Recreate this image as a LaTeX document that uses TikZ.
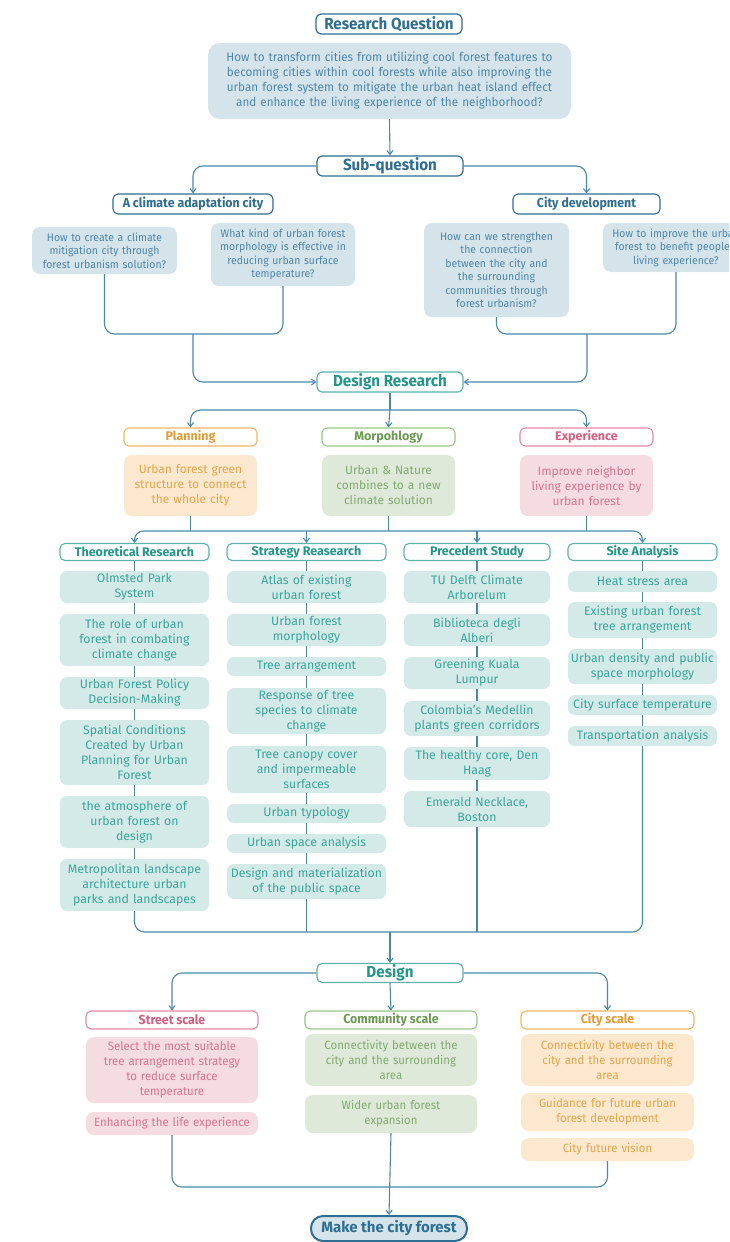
\documentclass[tikz,border=0pt]{standalone}
\usepackage{fontspec}
\setmainfont{Fira Sans}
\newfontfamily\cf[FakeStretch=0.95]{Fira Sans}
\usetikzlibrary{arrows.meta}
\definecolor{dblue}{HTML}{2F6E93}
\definecolor{lc}{HTML}{4A88AB}
\definecolor{qfill}{HTML}{D4E4EA}
\definecolor{qtext}{HTML}{4F86A8}
\definecolor{tborder}{HTML}{5BB3AA}
\definecolor{ttext}{HTML}{23968A}
\definecolor{tfill}{HTML}{D3EAE8}
\definecolor{titem}{HTML}{3BA59B}
\definecolor{oborder}{HTML}{F3B762}
\definecolor{otext}{HTML}{E79A35}
\definecolor{ofill}{HTML}{FBE8CF}
\definecolor{obody}{HTML}{E8A548}
\definecolor{gborder}{HTML}{9BC58A}
\definecolor{gtext}{HTML}{6B9A52}
\definecolor{gfill}{HTML}{DFE9DA}
\definecolor{gbody}{HTML}{82AA70}
\definecolor{pborder}{HTML}{E58AA4}
\definecolor{ptext}{HTML}{D65D7E}
\definecolor{pfill}{HTML}{F5DBE2}
\definecolor{pbody}{HTML}{DA7390}
\newcommand\szHead{\fontsize{16}{19}\selectfont}
\newcommand\szSub{\fontsize{13}{15}\selectfont}
\newcommand\szRQ{\fontsize{12.3}{15}\selectfont}
\newcommand\szBody{\fontsize{12}{15}\selectfont}
\newcommand\szQ{\fontsize{11}{13.5}\selectfont}
\newcommand\szCol{\fontsize{12.3}{15}\selectfont}
\newcommand\szColH{\fontsize{12.5}{15}\selectfont}
\begin{document}
\begin{tikzpicture}[x=1pt,y=-1pt,
  every node/.style={inner sep=0pt, align=center},
  ln/.style={draw=lc, line width=1.1pt},
  arr/.style={-{Straight Barb[length=4pt,width=6pt]}},
  hdr/.style={draw=dblue, line width=1.2pt, fill=white, rounded corners=5pt, text=dblue, font=\cf\bfseries\szHead},
  shdr/.style={draw=dblue, line width=1.1pt, fill=white, rounded corners=5pt, text=dblue, font=\cf\bfseries\szSub},
  qbox/.style={fill=qfill, rounded corners=8pt, text=qtext, font=\cf\szQ},
  thdr/.style={draw=tborder, line width=1.2pt, fill=white, rounded corners=5pt, text=ttext, font=\cf\bfseries\szHead},
  chdr/.style={draw=tborder, line width=1.1pt, fill=white, rounded corners=5pt, text=ttext, font=\bfseries\szColH},
  citem/.style={fill=tfill, rounded corners=7pt, text=titem, font=\szCol},
  ohdr/.style={draw=oborder, line width=1.1pt, fill=white, rounded corners=5pt, text=otext, font=\bfseries\szColH},
  ghdr/.style={draw=gborder, line width=1.1pt, fill=white, rounded corners=5pt, text=gtext, font=\bfseries\szColH},
  phdr/.style={draw=pborder, line width=1.1pt, fill=white, rounded corners=5pt, text=ptext, font=\bfseries\szColH},
  obox/.style={fill=ofill, rounded corners=8pt, text=obody, font=\szBody},
  gbox/.style={fill=gfill, rounded corners=8pt, text=gbody, font=\szBody},
  pbox/.style={fill=pfill, rounded corners=8pt, text=pbody, font=\szBody},
  osc/.style={draw=oborder, line width=1.1pt, fill=white, rounded corners=5pt, text=otext, font=\cf\bfseries\szSub},
  gsc/.style={draw=gborder, line width=1.1pt, fill=white, rounded corners=5pt, text=gtext, font=\cf\bfseries\szSub},
  psc/.style={draw=pborder, line width=1.1pt, fill=white, rounded corners=5pt, text=ptext, font=\cf\bfseries\szSub},
  obd/.style={fill=ofill, rounded corners=8pt, text=obody, font=\cf\szBody},
  gbd/.style={fill=gfill, rounded corners=8pt, text=gbody, font=\cf\szBody},
  pbd/.style={fill=pfill, rounded corners=8pt, text=pbody, font=\cf\szBody}
]
\useasboundingbox (0,0) rectangle (729,1242);
\clip (0,0) rectangle (729,1242);
\fill[white] (0,0) rectangle (729,1242);

% ---------- top ----------
\node[hdr, minimum width=146, minimum height=20] (rq) at (389,24) {Research Question};
\node[fill=qfill, rounded corners=12pt, text=qtext, font=\cf\szRQ, minimum width=363, minimum height=76, text width=355] (rqb) at (389.5,81)
  {How to transform cities from utilizing cool forest features to\\becoming cities within cool forests while also improving the\\urban forest system to mitigate the urban heat island effect\\and enhance the living experience of the neighborhood?};
\node[hdr, minimum width=146, minimum height=20] (sq) at (390,166) {Sub-question};
\node[shdr, minimum width=160, minimum height=20] (ac) at (193,204) {A climate adaptation city};
\node[shdr, minimum width=147, minimum height=20] (cd) at (586.5,204) {City development};

\node[qbox, minimum width=145, minimum height=47, text width=141] (q1) at (104.5,250.5)
  {How to create a climate\\mitigation city through\\forest urbanism solution?};
\node[qbox, minimum width=144, minimum height=63, text width=140] (q2) at (283,254.5)
  {What kind of urban forest\\morphology is effective in\\reducing urban surface\\temperature?};
\node[qbox, minimum width=145, minimum height=94, text width=141] (q3) at (496.5,270)
  {How can we strengthen\\the connection\\between the city and\\the surrounding\\communities through\\forest urbanism?};
\node[qbox, minimum width=146, minimum height=49, text width=142] (q4) at (676,247.5)
  {How to improve the urban\\forest to benefit people's\\living experience?};

\coordinate (jA) at (193,334);
\coordinate (jA2) at (587,334);
\node[thdr, minimum width=146, minimum height=20] (dr) at (390,382) {Design Research};
\coordinate (jB) at (390,410);

\draw[ln,arr] (rqb.south) -- (sq.north);
\draw[ln,arr,rounded corners=10pt] (sq.west) -| (ac.north);
\draw[ln,arr,rounded corners=10pt] (sq.east) -| (cd.north);
\draw[ln,rounded corners=10pt] (q1.south) |- (jA) -| (q2.south);
\draw[ln,rounded corners=10pt] (q3.south) |- (jA2) -| (q4.south);
\draw[ln,arr,rounded corners=10pt] (jA) |- (dr.west);
\draw[ln,arr,rounded corners=10pt] (jA2) |- (dr.east);

% ---------- planning / morphology / experience ----------
\node[ohdr, minimum width=133, minimum height=18] (pl) at (190.5,437) {Planning};
\node[ghdr, minimum width=133, minimum height=18] (mo) at (388.5,437) {Morpohlogy};
\node[phdr, minimum width=133, minimum height=18] (ex) at (586.5,437) {Experience};
\node[obox, minimum width=133, minimum height=61, text width=129] (plb) at (190.5,485.5)
  {Urban forest green\\structure to connect\\the whole city};
\node[gbox, minimum width=133, minimum height=61, text width=129] (mob) at (388.5,485.5)
  {Urban \& Nature\\combines to a new\\climate solution};
\node[pbox, minimum width=133, minimum height=61, text width=129] (exb) at (586.5,485.5)
  {Improve neighbor\\living experience by\\urban forest};

\draw[ln] (dr.south) -- (jB);
\draw[ln,arr,rounded corners=10pt] (jB) -| (pl.north);
\draw[ln,arr,rounded corners=10pt] (jB) -| (ex.north);
\draw[ln,arr] (jB) -- (mo.north);

\coordinate (jC) at (389,531);

% ---------- column headers ----------
\node[chdr, minimum width=149, minimum height=17] (th) at (134.5,552) {Theoretical Research};
\node[chdr, minimum width=159, minimum height=17] (st) at (306.5,552) {Strategy Reasearch};
\node[chdr, minimum width=146, minimum height=17] (pr) at (477,552) {Precedent Study};
\node[chdr, minimum width=149, minimum height=17] (sa) at (642.5,552) {Site Analysis};

\draw[ln] (plb.south) -- (plb.south |- jC);
\draw[ln] (mob.south) -- (mob.south |- jC);
\draw[ln] (exb.south) -- (exb.south |- jC);
\draw[ln,arr,rounded corners=9pt] (jC) -| (th.north);
\draw[ln,arr,rounded corners=9pt] (jC) -| (sa.north);
\draw[ln,arr] (st.north |- jC) -- (st.north);
\draw[ln,arr] (pr.north |- jC) -- (pr.north);

% ---------- theoretical ----------
\node[citem, minimum width=149, minimum height=32, text width=145] (t1) at (134.5,587) {Olmsted Park\\System};
\node[citem, minimum width=149, minimum height=52, text width=145] (t2) at (134.5,640) {The role of urban\\forest in combating\\climate change};
\node[citem, minimum width=149, minimum height=32, text width=145] (t3) at (134.5,693) {Urban Forest Policy\\Decision-Making};
\node[citem, minimum width=149, minimum height=65, text width=145] (t4) at (134.5,752.5) {Spatial Conditions\\Created by Urban\\Planning for Urban\\Forest};
\node[citem, minimum width=149, minimum height=52, text width=145] (t5) at (134.5,822) {the atmosphere of\\urban forest on\\design};
\node[citem, minimum width=149, minimum height=52, text width=145] (t6) at (134.5,885) {Metropolitan landscape\\architecture urban\\parks and landscapes};

% ---------- strategy ----------
\node[citem, minimum width=159, minimum height=32, text width=155] (s1) at (306.5,587) {Atlas of existing\\urban forest};
\node[citem, minimum width=159, minimum height=32, text width=155] (s2) at (306.5,630) {Urban forest\\morphology};
\node[citem, minimum width=159, minimum height=19, text width=155] (s3) at (306.5,666.5) {Tree arrangement};
\node[citem, minimum width=159, minimum height=46, text width=155] (s4) at (306.5,711) {Response of tree\\species to climate\\change};
\node[citem, minimum width=159, minimum height=47, text width=155] (s5) at (306.5,769.5) {Tree canopy cover\\and impermeable\\surfaces};
\node[citem, minimum width=159, minimum height=19, text width=155] (s6) at (306.5,813.5) {Urban typology};
\node[citem, minimum width=159, minimum height=19, text width=155] (s7) at (306.5,843.5) {Urban space analysis};
\node[citem, minimum width=159, minimum height=35, text width=155] (s8) at (306.5,881.5) {Design and materialization\\of the public space};

% ---------- precedent ----------
\node[citem, minimum width=146, minimum height=32, text width=142] (p1) at (477,587) {TU Delft Climate\\Arborelum};
\node[citem, minimum width=146, minimum height=32, text width=142] (p2) at (477,630) {Biblioteca degli\\Alberi};
\node[citem, minimum width=146, minimum height=32, text width=142] (p3) at (477,673) {Greening Kuala\\Lumpur};
\node[citem, minimum width=146, minimum height=35, text width=142] (p4) at (477,718.5) {Colombia's Medellin\\plants green corridors};
\node[citem, minimum width=146, minimum height=33, text width=142] (p5) at (477,763.5) {The healthy core, Den\\Haag};
\node[citem, minimum width=146, minimum height=36, text width=142] (p6) at (477,809) {Emerald Necklace,\\Boston};

% ---------- site ----------
\node[citem, minimum width=149, minimum height=21, text width=145] (a1) at (642.5,581.5) {Heat stress area};
\node[citem, minimum width=149, minimum height=36, text width=145] (a2) at (642.5,620) {Existing urban forest\\tree arrangement};
\node[citem, minimum width=149, minimum height=35, text width=145] (a3) at (642.5,666.5) {Urban density and public\\space morphology};
\node[citem, minimum width=149, minimum height=20, text width=145] (a4) at (642.5,705) {City surface temperature};
\node[citem, minimum width=149, minimum height=20, text width=145] (a5) at (642.5,736) {Transportation analysis};

\draw[ln] (th.south) -- (t1.north) (t1.south) -- (t2.north) (t2.south) -- (t3.north) (t3.south) -- (t4.north) (t4.south) -- (t5.north) (t5.south) -- (t6.north);
\draw[ln] (st.south) -- (s1.north) (s1.south) -- (s2.north) (s2.south) -- (s3.north) (s3.south) -- (s4.north) (s4.south) -- (s5.north) (s5.south) -- (s6.north) (s6.south) -- (s7.north) (s7.south) -- (s8.north);
\draw[ln] (pr.south) -- (p1.north) (p1.south) -- (p2.north) (p2.south) -- (p3.north) (p3.south) -- (p4.north) (p4.south) -- (p5.north) (p5.south) -- (p6.north);
\draw[ln] (sa.south) -- (a1.north) (a1.south) -- (a2.north) (a2.south) -- (a3.north) (a3.south) -- (a4.north) (a4.south) -- (a5.north);

\coordinate (jD) at (390,932);
\draw[ln,rounded corners=10pt] (t6.south) |- (jD);
\draw[ln,rounded corners=10pt] (a5.south) |- (jD);
\draw[ln] (s8.south) -- (s8.south |- jD);
\draw[ln] (p6.south) -- (p6.south |- jD);

% ---------- design ----------
\node[thdr, minimum width=146, minimum height=19] (dsg) at (390,973) {Design};
\draw[ln,arr] (jD) -- (dsg.north);

\node[psc, minimum width=172, minimum height=18] (sts) at (172,1020) {Street scale};
\node[gsc, minimum width=172, minimum height=18] (cms) at (391,1020) {Community scale};
\node[osc, minimum width=173, minimum height=18] (cts) at (607.5,1020) {City scale};
\draw[ln,arr,rounded corners=10pt] (dsg.west) -| (sts.north);
\draw[ln,arr,rounded corners=10pt] (dsg.east) -| (cts.north);
\draw[ln,arr] (dsg.south) -- (cms.north);

\node[pbd, minimum width=172, minimum height=66, text width=166] (sb1) at (172,1070)
  {Select the most suitable\\tree arrangement strategy\\to reduce surface\\temperature};
\node[pbd, minimum width=172, minimum height=23, text width=166] (sb2) at (172,1123.5)
  {Enhancing the life experience};
\node[gbd, minimum width=172, minimum height=52, text width=166] (cb1) at (391,1060)
  {Connectivity between the\\city and the surrounding\\area};
\node[gbd, minimum width=172, minimum height=38, text width=166] (cb2) at (391,1114)
  {Wider urban forest\\expansion};
\node[obd, minimum width=173, minimum height=52, text width=167] (yb1) at (607.5,1060)
  {Connectivity between the\\city and the surrounding\\area};
\node[obd, minimum width=173, minimum height=38, text width=167] (yb2) at (607.5,1112)
  {Guidance for future urban\\forest development};
\node[obd, minimum width=173, minimum height=23, text width=167] (yb3) at (607.5,1149.5)
  {City future vision};

\coordinate (jE) at (391,1187);
\draw[ln,rounded corners=10pt] (sb2.south) |- (jE) -| (yb3.south);

\node[draw=dblue, line width=2pt, fill=qfill, rounded corners=12pt, text=dblue, font=\bfseries\fontsize{15}{18}\selectfont, minimum width=156, minimum height=25] (fin) at (389,1228.5) {Make the city forest};
\draw[ln,arr] (cb2.south) -- (fin.north);
\end{tikzpicture}
\end{document}
